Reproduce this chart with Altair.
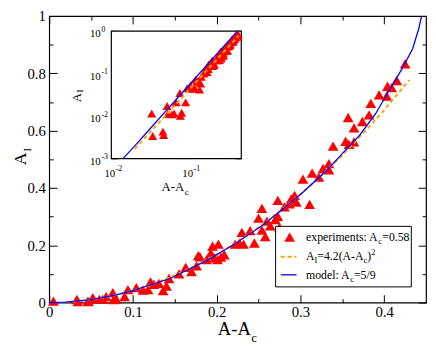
import altair as alt
import pandas as pd

FONT = "Liberation Serif"
W, H = 384, 292
RED, BLUE, ORANGE = "#ff0000", "#0000ff", "#ffa500"

# ---------------- data ----------------
exp_x = [0.005, 0.033, 0.034, 0.046, 0.047, 0.052, 0.053, 0.060, 0.064, 0.068,
         0.076, 0.077, 0.080, 0.090, 0.094, 0.104, 0.112, 0.118, 0.121, 0.125,
         0.131, 0.136, 0.140, 0.143, 0.155, 0.163, 0.170, 0.176, 0.178, 0.180,
         0.188, 0.193, 0.195, 0.197, 0.201, 0.202, 0.205, 0.209, 0.222, 0.227,
         0.230, 0.232, 0.240, 0.245, 0.250, 0.254, 0.254, 0.258, 0.260, 0.264,
         0.270, 0.273, 0.273, 0.275, 0.281, 0.287, 0.289, 0.293, 0.295, 0.303,
         0.311, 0.314, 0.322, 0.327, 0.334, 0.334, 0.339, 0.354, 0.357, 0.358,
         0.364, 0.364, 0.374, 0.382, 0.384, 0.394, 0.403, 0.404, 0.409, 0.415,
         0.425]
exp_y = [0.005, 0.0115, 0.0034, 0.0043, 0.0036, 0.0173, 0.0112, 0.011, 0.0115, 0.021,
         0.035, 0.0102, 0.012, 0.021, 0.045, 0.052, 0.044, 0.045, 0.072, 0.064,
         0.067, 0.042, 0.058, 0.084, 0.100, 0.123, 0.108, 0.128, 0.164, 0.160,
         0.150, 0.173, 0.197, 0.156, 0.150, 0.204, 0.159, 0.167, 0.204, 0.208,
         0.245, 0.204, 0.251, 0.208, 0.295, 0.329, 0.253, 0.230, 0.284, 0.268,
         0.290, 0.357, 0.301, 0.262, 0.334, 0.345, 0.362, 0.374, 0.351, 0.431,
         0.343, 0.452, 0.438, 0.468, 0.485, 0.463, 0.546, 0.563, 0.646, 0.552,
         0.561, 0.610, 0.632, 0.655, 0.695, 0.725, 0.721, 0.755, 0.750, 0.775,
         0.833]

model_x = [0.0, 0.02, 0.05, 0.08, 0.1, 0.145, 0.19, 0.22, 0.254, 0.28,
           0.303, 0.332, 0.35, 0.371, 0.39, 0.406, 0.422, 0.434, 0.441, 0.4447]
model_y = [0.0, 0.0017, 0.010, 0.027, 0.042, 0.085, 0.150, 0.202, 0.268, 0.328,
           0.385, 0.463, 0.52, 0.585, 0.66, 0.741, 0.819, 0.886, 0.953, 1.0]

fit_x = [0.02, 0.03, 0.04, 0.05, 0.06, 0.08, 0.1, 0.12, 0.15, 0.18,
         0.2, 0.22, 0.25, 0.28, 0.3, 0.32, 0.35, 0.38, 0.4, 0.43]
fit_y = [0.0017, 0.0038, 0.0067, 0.0105, 0.0151, 0.0269, 0.042, 0.0605, 0.0945, 0.136,
         0.168, 0.203, 0.2625, 0.329, 0.378, 0.430, 0.5145, 0.6065, 0.672, 0.7766]

inset_model_x = [0.0141, 0.02, 0.03, 0.05, 0.1, 0.2, 0.3, 0.415]
inset_model_y = [0.001, 0.002, 0.0046, 0.0131, 0.054, 0.224, 0.51, 1.0]

main_x_major = [0, 0.1, 0.2, 0.3, 0.4]
main_x_minor = [0.05, 0.15, 0.25, 0.35]
main_y_major = [0, 0.2, 0.4, 0.6, 0.8, 1.0]
main_y_minor = [0.1, 0.3, 0.5, 0.7, 0.9]

inset_x_major = [0.01, 0.1]
inset_x_exp = ["-2", "-1"]
inset_x_minor = [0.02, 0.03, 0.04, 0.05, 0.06, 0.07, 0.08, 0.09, 0.2, 0.3, 0.4]
inset_y_major = [0.001, 0.01, 0.1, 1]
inset_y_exp = ["-3", "-2", "-1", "0"]
inset_y_minor = [0.002, 0.003, 0.004, 0.005, 0.006, 0.007, 0.008, 0.009,
                 0.02, 0.03, 0.04, 0.05, 0.06, 0.07, 0.08, 0.09,
                 0.2, 0.3, 0.4, 0.5, 0.6, 0.7, 0.8, 0.9]

# ---------------- scales ----------------
MX = alt.Scale(domain=[0, 0.45], nice=False, zero=False)
MY = alt.Scale(domain=[0, 1], nice=False, zero=False)
IX_L, IX_R = 63.3, 195.7
IY_B, IY_T = 145.3, 15.3
IX = alt.Scale(type="log", domain=[0.01, 0.466], range=[IX_L, IX_R], nice=False)
IY = alt.Scale(type="log", domain=[0.001, 1], range=[IY_B, IY_T], nice=False)

df_exp = pd.DataFrame({"x": exp_x, "y": exp_y})
df_model = pd.DataFrame({"x": model_x, "y": model_y})
df_fit = pd.DataFrame({"x": fit_x, "y": fit_y})
df_imodel = pd.DataFrame({"x": inset_model_x, "y": inset_model_y})
one = pd.DataFrame({"a": [0]})


def tick_axis(orient, offset, values, size):
    return alt.Axis(orient=orient, offset=offset, values=values, tickSize=size,
                    labels=False, domain=False, grid=False, title=None,
                    tickColor="black", tickWidth=1)


def tick_layer(xs, ys, xv, yv, xo, xoff, yo, yoff, size):
    d = pd.DataFrame({"x": [0.1], "y": [0.1]})
    return alt.Chart(d).mark_point(opacity=0).encode(
        x=alt.X("x:Q", scale=xs, axis=tick_axis(xo, xoff, xv, size)),
        y=alt.Y("y:Q", scale=ys, axis=tick_axis(yo, yoff, yv, size)),
    )


def txt(s, x, y, size, align="left", angle=0):
    return alt.Chart(one).mark_text(text=s, font=FONT, fontSize=size, align=align,
                                    baseline="alphabetic", angle=angle,
                                    color="black").encode(x=alt.value(x), y=alt.value(y))


layers = []

# ---------------- main panel ----------------
lab_common = dict(ticks=False, tickSize=0, domain=False, grid=False, title=None,
                  labelFont=FONT, labelFontSize=15, labelColor="black",
                  labelFlush=False, labelOverlap=False)
main_pts = alt.Chart(df_exp).mark_point(shape="triangle-up", filled=True, color=RED,
                                         size=120, opacity=1).encode(
    x=alt.X("x:Q", scale=MX, axis=alt.Axis(
        orient="bottom", values=main_x_major, labelPadding=2,
        labelExpr="datum.value == 0 ? '0' : format(datum.value, '.1f')", **lab_common)),
    y=alt.Y("y:Q", scale=MY, axis=alt.Axis(
        orient="left", values=main_y_major, labelPadding=4,
        labelExpr="datum.value == 0 ? '0' : datum.value == 1 ? '1' : format(datum.value, '.1f')",
        **lab_common)),
)
main_fit = alt.Chart(df_fit).mark_line(color=ORANGE, strokeDash=[4, 3], strokeWidth=2).encode(
    x=alt.X("x:Q", scale=MX, axis=None), y=alt.Y("y:Q", scale=MY, axis=None))
main_model = alt.Chart(df_model).mark_line(color=BLUE, strokeWidth=1.3).encode(
    x=alt.X("x:Q", scale=MX, axis=None), y=alt.Y("y:Q", scale=MY, axis=None))
layers += [main_pts, main_fit, main_model]

# inward ticks of the main frame
layers += [
    tick_layer(MX, MY, main_x_major, main_y_major, "top", -H, "right", -W, 8),
    tick_layer(MX, MY, main_x_minor, main_y_minor, "top", -H, "right", -W, 4),
    tick_layer(MX, MY, main_x_major, main_y_major, "bottom", -H, "left", -W, 8),
    tick_layer(MX, MY, main_x_minor, main_y_minor, "bottom", -H, "left", -W, 4),
]

# main axis titles
layers += [
    txt("A-A", 205.5, 325, 19, align="right"),
    txt("c", 206, 332, 13),
    txt("A", -24, 139, 18, align="right", angle=270),
    txt("I", -18.5, 138, 11, align="left", angle=270),
]

# ---------------- inset ----------------
frame = pd.DataFrame({"x0": [0.01], "x1": [0.466], "y0": [0.001], "y1": [1.0]})
layers.append(alt.Chart(frame).mark_rect(fill="white", stroke="black", strokeWidth=1.2).encode(
    x=alt.X("x0:Q", scale=IX, axis=None), x2="x1:Q",
    y=alt.Y("y0:Q", scale=IY, axis=None), y2="y1:Q"))
layers.append(alt.Chart(df_exp).transform_filter("datum.x >= 0.01").mark_point(
    shape="triangle-up", filled=True, color=RED, size=85, opacity=1).encode(
    x=alt.X("x:Q", scale=IX, axis=None), y=alt.Y("y:Q", scale=IY, axis=None)))
layers.append(alt.Chart(df_fit).mark_line(color=ORANGE, strokeDash=[4, 3], strokeWidth=2).encode(
    x=alt.X("x:Q", scale=IX, axis=None), y=alt.Y("y:Q", scale=IY, axis=None)))
layers.append(alt.Chart(df_imodel).mark_line(color=BLUE, strokeWidth=1.3).encode(
    x=alt.X("x:Q", scale=IX, axis=None), y=alt.Y("y:Q", scale=IY, axis=None)))

layers += [
    tick_layer(IX, IY, inset_x_major, inset_y_major, "top", -IY_B, "right", IX_L - W, 6),
    tick_layer(IX, IY, inset_x_minor, inset_y_minor, "top", -IY_B, "right", IX_L - W, 3),
    tick_layer(IX, IY, inset_x_major, inset_y_major, "bottom", IY_T - H, "left", -IX_R, 6),
    tick_layer(IX, IY, inset_x_minor, inset_y_minor, "bottom", IY_T - H, "left", -IX_R, 3),
]

# inset tick labels (10 with superscript exponent)
dfx = pd.DataFrame({"v": inset_x_major, "e": inset_x_exp})
dfy = pd.DataFrame({"v": inset_y_major, "e": inset_y_exp})
layers.append(alt.Chart(dfx).mark_text(text="10", font=FONT, fontSize=11, align="right", dx=4,
                                       baseline="alphabetic", color="black").encode(
    x=alt.X("v:Q", scale=IX, axis=None), y=alt.value(163.7)))
layers.append(alt.Chart(dfx).mark_text(font=FONT, fontSize=8, align="left", dx=4.5,
                                       baseline="alphabetic", color="black").encode(
    x=alt.X("v:Q", scale=IX, axis=None), y=alt.value(157.5), text="e:N"))
layers.append(alt.Chart(dfy).mark_text(text="10", font=FONT, fontSize=11, align="right", dy=6.5,
                                       baseline="alphabetic", color="black").encode(
    x=alt.value(52.5), y=alt.Y("v:Q", scale=IY, axis=None)))
layers.append(alt.Chart(dfy).mark_text(font=FONT, fontSize=8, align="left", dy=0.5,
                                       baseline="alphabetic", color="black").encode(
    x=alt.value(53.2), y=alt.Y("v:Q", scale=IY, axis=None), text="e:N"))

# inset titles
layers += [
    txt("A-A", 137.5, 178, 13, align="right"),
    txt("c", 138, 182, 9),
    txt("A", 32, 78.5, 13, align="right", angle=270),
    txt("I", 34.5, 78, 9, align="left", angle=270),
]

# ---------------- legend ----------------
layers.append(alt.Chart(one).mark_rect(fill="white", stroke="black", strokeWidth=1).encode(
    x=alt.value(230.7), x2=alt.value(369), y=alt.value(214.3), y2=alt.value(276)))
layers.append(alt.Chart(one).mark_point(shape="triangle-up", filled=True, color=RED,
                                        size=120, opacity=1).encode(
    x=alt.value(245), y=alt.value(225.3)))
layers.append(alt.Chart(one).mark_rule(color=ORANGE, strokeDash=[4, 3], strokeWidth=2).encode(
    x=alt.value(236), x2=alt.value(252), y=alt.value(245.3)))
layers.append(alt.Chart(one).mark_rule(color=BLUE, strokeWidth=1.3).encode(
    x=alt.value(236), x2=alt.value(252), y=alt.value(263.7)))

LF, SF = 12, 8.5
layers += [
    txt("experiments: A", 261.7, 229, LF),
    txt("c", 335.4, 232, SF),
    txt("=0.58", 339.4, 229, LF),
    txt("A", 261.7, 249, LF),
    txt("I", 270.4, 252, SF),
    txt("=4.2(A-A", 273.2, 249, LF),
    txt("c", 320.3, 252, SF),
    txt(")", 324.1, 249, LF),
    txt("2", 328.1, 244, SF),
    txt("model: A", 261.7, 268, LF),
    txt("c", 306.7, 271, SF),
    txt("=5/9", 310.5, 268, LF),
]

chart = alt.layer(*layers).resolve_scale(
    x="independent", y="independent"
).resolve_axis(
    x="independent", y="independent"
).properties(
    width=W, height=H,
    autosize=alt.AutoSizeParams(type="none"),
    padding={"left": 42, "top": 5, "right": 2, "bottom": 40},
).configure_view(stroke="black", strokeWidth=1.2)

chart.save("out.html", embed_options={"renderer": "svg", "actions": False})
